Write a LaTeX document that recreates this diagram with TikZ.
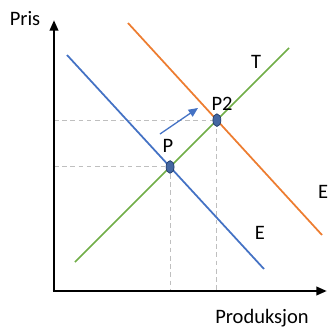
\documentclass[tikz,border=0pt]{standalone}
\usepackage{fontspec}
\setmainfont{Carlito}
\usetikzlibrary{arrows.meta}

\definecolor{linjeblaa}{RGB}{68,114,196}
\definecolor{linjeoransje}{RGB}{237,125,49}
\definecolor{linjegronn}{RGB}{112,173,71}
\definecolor{punktblaa}{RGB}{47,85,151}
\definecolor{hjelpegraa}{RGB}{191,191,191}

\begin{document}
\begin{tikzpicture}[x=0.03cm, y=-0.03cm,
    akse/.style={line width=2.4pt, -{Triangle[length=9pt, width=7pt]}},
    kurve/.style={line width=1.5pt},
    hjelp/.style={hjelpegraa, line width=0.8pt, dash pattern=on 4pt off 3pt},
    punkt/.style={fill=punktblaa!90!white, draw=punktblaa!70!black, line width=0.6pt},
    tekst/.style={font=\fontsize{17.5}{21}\selectfont, inner sep=0pt}]
    \useasboundingbox (0,0) rectangle (328,333);

    % akser
    \coordinate (origo) at (54,291);
    \coordinate (ytopp) at (54,20);
    \coordinate (xende) at (327,291);

    % endepunkt for kurvene
    \coordinate (e1) at (67,55);
    \coordinate (e2) at (264,269);
    \coordinate (t1) at (75,262);
    \coordinate (t2) at (289,48);
    \coordinate (f1) at (128,23);
    \coordinate (f2) at (322,235);

    % likevektspunkt
    \coordinate (P) at (intersection of e1--e2 and t1--t2);
    \coordinate (P2) at (intersection of f1--f2 and t1--t2);

    % hjelpelinjer
    \draw[hjelp] (origo |- P) -- (P) -- (P |- origo);
    \draw[hjelp] (origo |- P2) -- (P2) -- (P2 |- origo);

    % kurver
    \draw[kurve, linjeblaa] (e1) -- (e2);
    \draw[kurve, linjeoransje] (f1) -- (f2);
    \draw[kurve, linjegronn] (t1) -- (t2);

    \draw[akse] (origo) -- (ytopp);
    \draw[akse] ([xshift=-1.2pt]origo) -- (xende);

    % forskyvning
    \coordinate (pil1) at (160,134);
    \coordinate (pil2) at (198,108);
    \draw[linjeblaa, line width=1.1pt, -{Triangle[length=8pt, width=7pt]}] (pil1) -- (pil2);

    \draw[punkt] (P) ellipse [x radius=0.12cm, y radius=0.19cm];
    \draw[punkt] (P2) ellipse [x radius=0.12cm, y radius=0.19cm];

    % tekster
    \node[tekst] (pris) at (25,19) {Pris};
    \node[tekst] (produksjon) at (262,318) {Produksjon};
    \node[tekst] (lP) at (168,146) {P};
    \node[tekst] (lP2) at (222,104) {P2};
    \node[tekst] (lT) at (256,62) {T};
    \node[tekst] (lE) at (260,233) {E};
    \node[tekst, anchor=west] (lE2) at (318,192) {E};
\end{tikzpicture}
\end{document}
